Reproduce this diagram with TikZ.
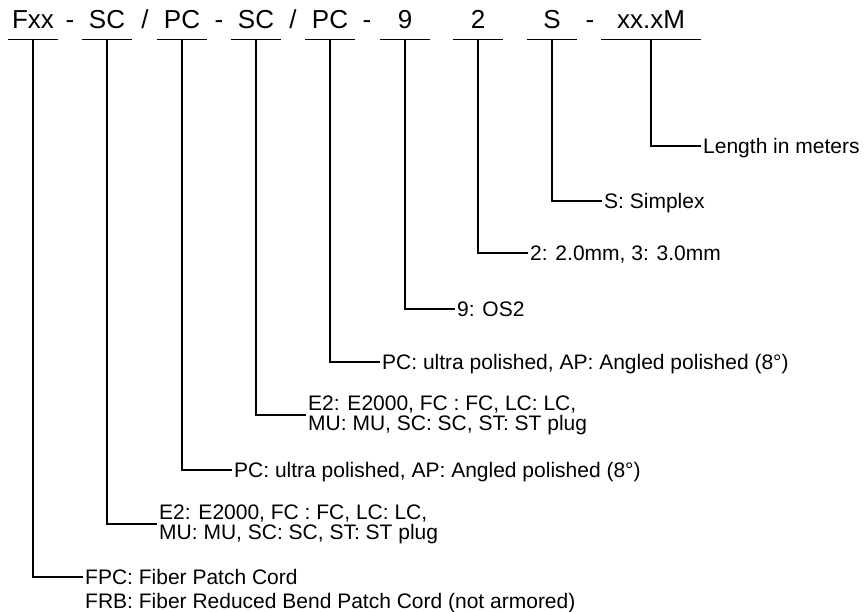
\documentclass[tikz,border=0pt]{standalone}
\usepackage{fontspec}
\setmainfont{Liberation Sans}
\begin{document}
\begin{tikzpicture}[x=1pt,y=-1pt,
  hd/.style={font=\fontsize{26}{30}\selectfont, inner sep=0pt, anchor=base},
  seg/.style={hd, minimum width=50pt, text depth=10.5pt},
  lab/.style={font=\fontsize{21}{20}\selectfont, inner xsep=2pt, inner ysep=0pt, text height=15pt, text depth=0pt, anchor=west},
  labtwo/.style={font=\fontsize{21}{20}\selectfont, inner xsep=2pt, inner ysep=0pt, align=left, anchor=west},
  ln/.style={line width=1.4pt},
]
\useasboundingbox (0,0) rectangle (864,612);

% header
\node[seg] (fxx) at (33,29) {Fxx};
\node[hd] (d1) at (70,29) {-};
\node[seg] (sca) at (107,29) {SC};
\node[hd] (sla) at (145,29) {/};
\node[seg] (pca) at (182,29) {PC};
\node[hd] (d2) at (219,29) {-};
\node[seg] (scb) at (256,29) {SC};
\node[hd] (slb) at (293,29) {/};
\node[seg] (pcb) at (330,29) {PC};
\node[hd] (d3) at (367,29) {-};
\node[seg] (nine) at (405,29) {9};
\node[seg] (two) at (478,29) {2};
\node[seg] (simp) at (552,29) {S};
\node[hd] (d4) at (590,29) {-};
\node[seg, minimum width=100pt] (xxm) at (651,29) {xx.xM};

\foreach \n in {fxx,sca,pca,scb,pcb,nine,two,simp,xxm}
  \draw[ln] (\n.south west) -- (\n.south east);

% labels
\node[lab] (len) at (701,146) {Length in meters};
\node[lab] (simpl) at (602,201) {S: Simplex};
\node[lab] (mm) at (528,253) {2: 2.0mm, 3: 3.0mm};
\node[lab] (os) at (455,309) {9: OS2};
\node[lab] (pcbl) at (380,362) {PC: ultra polished, AP: Angled polished (8°)};
\node[labtwo] (scbl) at (306,415) {E2: E2000, FC : FC, LC: LC,\\MU: MU, SC: SC, ST: ST plug};
\node[lab] (pcal) at (232,470) {PC: ultra polished, AP: Angled polished (8°)};
\node[labtwo] (scal) at (157,524) {E2: E2000, FC : FC, LC: LC,\\MU: MU, SC: SC, ST: ST plug};
\node[lab] (fpc) at (83,577) {FPC: Fiber Patch Cord};
\node[lab, anchor=base west] (frb) at ([yshift=-24pt]fpc.base west) {FRB: Fiber Reduced Bend Patch Cord (not armored)};

% connectors
\draw[ln] (xxm.south) |- (len.west);
\draw[ln] (simp.south) |- (simpl.west);
\draw[ln] (two.south) |- (mm.west);
\draw[ln] (nine.south) |- (os.west);
\draw[ln] (pcb.south) |- (pcbl.west);
\draw[ln] (scb.south) |- (scbl.west);
\draw[ln] (pca.south) |- (pcal.west);
\draw[ln] (sca.south) |- (scal.west);
\draw[ln] (fxx.south) |- (fpc.west);
\end{tikzpicture}
\end{document}
